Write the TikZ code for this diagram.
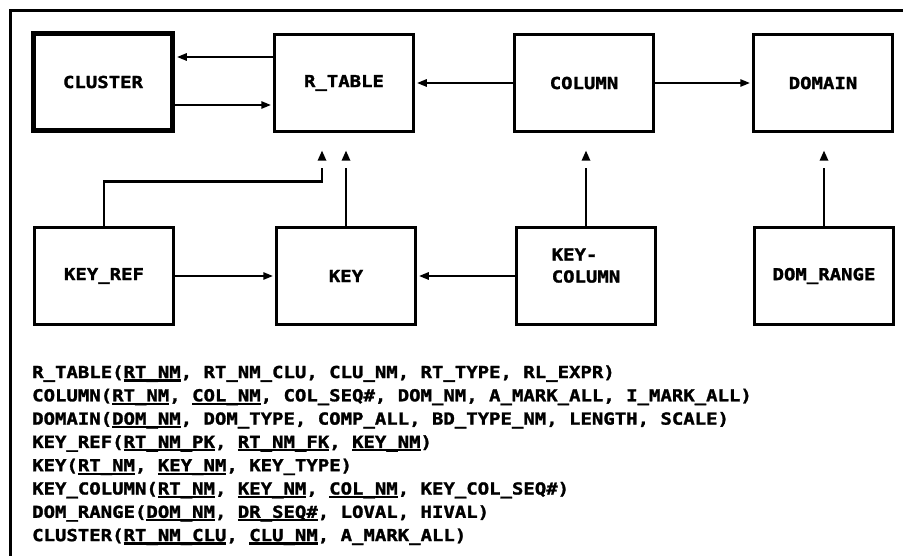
\documentclass[tikz,border=0pt]{standalone}
\usepackage{fontspec}
\newfontfamily\plotfont[FakeStretch=1.15, FakeBold=1.6]{DejaVu Sans Mono}
\usetikzlibrary{arrows.meta, decorations.markings}
% underlined key attribute
\newcommand\pk[1]{\setbox0\hbox{#1}\rlap{\rule[-3.5pt]{\wd0}{2.2pt}}\box0}

\begin{document}
\begin{tikzpicture}[x=1pt, y=-1pt, line join=miter,
	entity/.style={draw, line width=2.5pt, minimum width=139pt, minimum height=97pt, inner sep=0pt, align=left,
		font=\plotfont\bfseries\fontsize{16.5}{22}\selectfont},
	hconn/.style={line width=2.5pt, -{Triangle[length=10pt, width=7pt]}, shorten >=2pt},
	% vertical links: detached triangle below the target box
	vconn/.style={line width=2.5pt, shorten >=35pt, postaction={decorate, decoration={markings,
		mark=at position -18pt with {\fill (0pt,0pt) -- (-10pt,4.5pt) -- (-10pt,-4.5pt) -- cycle;}}}},
	relation/.style={anchor=base west, inner sep=0pt, font=\plotfont\bfseries\fontsize{16.5}{22}\selectfont}]
	\useasboundingbox (0,0) rectangle (903,556);
	
	% frame
	\draw[line width=3pt] (10,556) -- (10,11) -- (903,11);
	
	% entities
	\node[entity, line width=4.5pt] (cluster) at (103,82) {CLUSTER};
	\node[entity] (rtable) at (344,83) {R\_TABLE};
	\node[entity] (column) at (584,83) {COLUMN};
	\node[entity] (domain) at (823,83) {DOMAIN};
	\node[entity] (keyref) at (104,276) {KEY\_REF};
	\node[entity] (key) at (346,276) {KEY};
	\node[entity, text depth=21pt] (keycol) at (586,276) {KEY-\\COLUMN};
	\node[entity] (domrange) at (824,276) {DOM\_RANGE};
	
	% horizontal links
	\draw[hconn] ([yshift=26pt]rtable.west) -- ([yshift=26pt]rtable.west -| cluster.east);
	\draw[hconn] ([yshift=-23pt]cluster.east) -- ([yshift=-23pt]cluster.east -| rtable.west);
	\draw[hconn] (column.west) -- (rtable.east);
	\draw[hconn] (column.east) -- (domain.west);
	\draw[hconn] (keyref.east) -- (key.west);
	\draw[hconn] (keycol.west) -- (key.east);
	
	% vertical links
	\draw[vconn] (keyref.north) |- ([xshift=-22pt, yshift=-49pt]rtable.south) -- ([xshift=-22pt]rtable.south);
	\draw[vconn] (key.north) -- (key.north |- rtable.south);
	\draw[vconn] (keycol.north) -- (keycol.north |- column.south);
	\draw[vconn] (domrange.north) -- (domrange.north |- domain.south);
	
	% relation schemes
	\foreach \rel [count=\i] in {
		{R\_TABLE(\pk{RT\_NM}, RT\_NM\_CLU, CLU\_NM, RT\_TYPE, RL\_EXPR)},
		{COLUMN(\pk{RT\_NM}, \pk{COL\_NM}, COL\_SEQ\#, DOM\_NM, A\_MARK\_ALL, I\_MARK\_ALL)},
		{DOMAIN(\pk{DOM\_NM}, DOM\_TYPE, COMP\_ALL, BD\_TYPE\_NM, LENGTH, SCALE)},
		{KEY\_REF(\pk{RT\_NM\_PK}, \pk{RT\_NM\_FK}, \pk{KEY\_NM})},
		{KEY(\pk{RT\_NM}, \pk{KEY\_NM}, KEY\_TYPE)},
		{KEY\_COLUMN(\pk{RT\_NM}, \pk{KEY\_NM}, \pk{COL\_NM}, KEY\_COL\_SEQ\#)},
		{DOM\_RANGE(\pk{DOM\_NM}, \pk{DR\_SEQ\#}, LOVAL, HIVAL)},
		{CLUSTER(\pk{RT\_NM\_CLU}, \pk{CLU\_NM}, A\_MARK\_ALL)}}
		\node[relation] (rel\i) at (32,{378+23.3*(\i-1)}) {\rel};
\end{tikzpicture}
\end{document}
